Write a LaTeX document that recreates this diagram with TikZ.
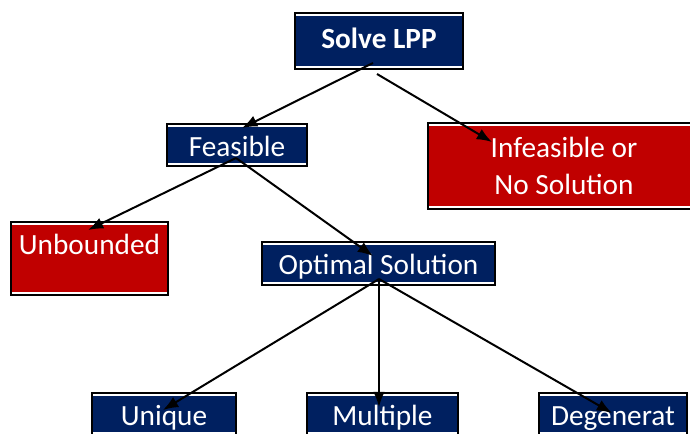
\documentclass[tikz,border=0pt]{standalone}
\usepackage{fontspec}
\setmainfont{Carlito}
\usetikzlibrary{arrows.meta}
\definecolor{lppblue}{HTML}{002060}
\definecolor{lppred}{HTML}{C00000}
\tikzset{
  box/.style={draw=black,line width=1.6pt,text=white,inner sep=0pt,
    font=\fontsize{25}{31.5}\selectfont,text height=19pt,text depth=0pt,
    path picture={\draw[white,line width=5pt]
      (path picture bounding box.north west) -- (path picture bounding box.north east)
      (path picture bounding box.south west) -- (path picture bounding box.south east);}},
  bluebox/.style={box,fill=lppblue},
  redbox/.style={box,fill=lppred},
  arr/.style={-{Latex[length=13pt,width=10pt]},line width=1.7pt},
}
\begin{document}
\begin{tikzpicture}
    \useasboundingbox (0,0) rectangle (20.70,12.99);
    \node[bluebox,minimum width=5.04cm,minimum height=1.68cm,font=\fontsize{25}{31.5}\selectfont\bfseries,text depth=7pt]
                                         (lpp)   at (11.37,11.76) {Solve LPP};
    \node[bluebox,minimum width=4.20cm,minimum height=1.26cm]  (feas)  at ( 7.11, 8.64) {Feasible};
    \node[redbox,minimum width=8.16cm,minimum height=2.58cm,align=center,text height=,text depth=]
                                         (infeas) at (16.92, 8.01) {Infeasible or\\No Solution};
    \node[redbox,minimum width=4.71cm,minimum height=2.19cm,text depth=26.6pt]
                                         (unb)   at ( 2.685,5.235) {Unbounded};
    \node[bluebox,minimum width=6.99cm,minimum height=1.29cm]  (opt)   at (11.355,5.085) {Optimal Solution};
    \node[bluebox,minimum width=4.32cm,minimum height=1.26cm]  (uniq)  at ( 4.92, 0.57) {Unique};
    \node[bluebox,minimum width=4.53cm,minimum height=1.26cm]  (mult)  at (11.475,0.57) {Multiple};
    \node[bluebox,minimum width=4.44cm,minimum height=1.26cm]  (degen) at (18.39, 0.57) {Degenerat};
    % where the arrows start and end
    \coordinate (lppA)     at (11.19,11.10);
    \coordinate (lppB)     at (11.31,10.77);
    \coordinate (feasTip)  at ( 7.26, 9.15);
    \coordinate (infTip)   at (14.76, 8.73);
    \coordinate (feasOut)  at ( 7.08, 8.25);
    \coordinate (unbTip)   at ( 2.64, 6.09);
    \coordinate (optTip)   at (11.19, 5.31);
    \coordinate (optOut)   at (11.37, 4.62);
    \coordinate (uniqTip)  at ( 4.89, 0.69);
    \coordinate (multTip)  at (11.37, 0.78);
    \coordinate (degenTip) at (18.36, 0.60);
    \draw[arr] (lppA) to (feasTip);
    \draw[arr] (lppB) to (infTip);
    \draw[arr] (feasOut) to (unbTip);
    \draw[arr] (feasOut) to (optTip);
    \draw[arr] (optOut) to (uniqTip);
    \draw[arr] (optOut) to (multTip);
    \draw[arr] (optOut) to (degenTip);
  \end{tikzpicture}
\end{document}
